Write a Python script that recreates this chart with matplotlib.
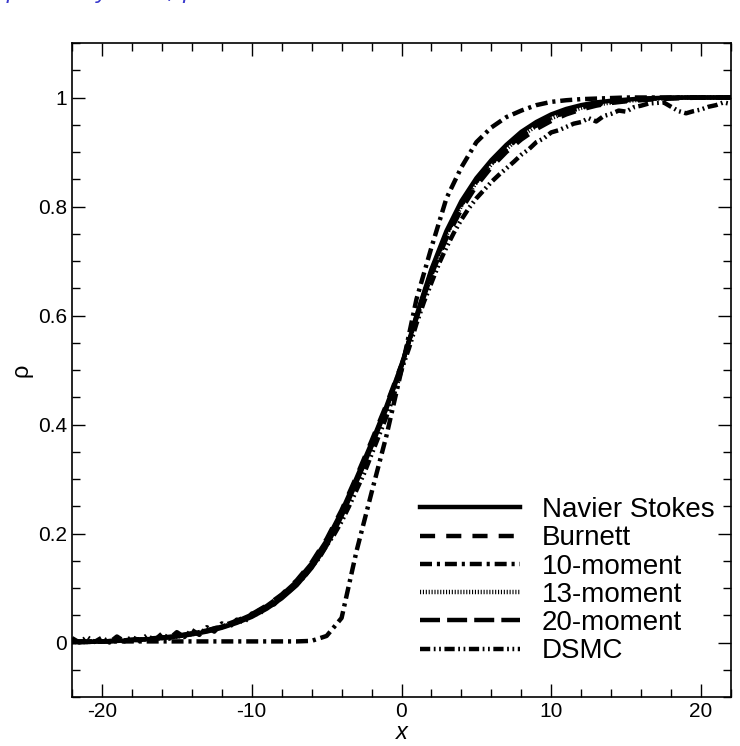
import numpy as np
import matplotlib
matplotlib.use('Agg')
import matplotlib.pyplot as plt
from matplotlib.ticker import MultipleLocator

plt.rcParams['font.family'] = ['Liberation Sans', 'DejaVu Sans']
plt.rcParams['axes.unicode_minus'] = False

# x positions for the smooth model curves (step 1)
x = np.arange(-22, 23, 1)
navier_stokes = [0.001, 0.001, 0.002, 0.003, 0.004, 0.006, 0.008, 0.011, 0.015, 0.02,
                 0.027, 0.036, 0.047, 0.062, 0.081, 0.105, 0.137, 0.178, 0.232, 0.295,
                 0.36, 0.43, 0.507, 0.6, 0.685, 0.755, 0.81, 0.852, 0.885, 0.913,
                 0.937, 0.955, 0.969, 0.979, 0.986, 0.991, 0.994, 0.996, 0.998, 0.999,
                 1.0, 1.0, 1.0, 1.0, 1.0]
burnett = [0.001, 0.002, 0.002, 0.003, 0.005, 0.007, 0.009, 0.012, 0.017, 0.022,
           0.03, 0.04, 0.052, 0.068, 0.088, 0.114, 0.147, 0.19, 0.243, 0.305,
           0.37, 0.437, 0.51, 0.595, 0.675, 0.742, 0.795, 0.838, 0.872, 0.9,
           0.923, 0.942, 0.957, 0.969, 0.978, 0.985, 0.99, 0.993, 0.995, 0.997,
           0.998, 0.999, 1.0, 1.0, 1.0]
moment10 = [0.002] * 16 + [0.003, 0.012, 0.045, 0.168, 0.275, 0.38, 0.5,
                           0.63, 0.725, 0.815, 0.872, 0.918, 0.945, 0.964,
                           0.976, 0.986, 0.992, 0.995, 0.997, 0.998, 0.999] + [1.0] * 8
moment13 = [0.001, 0.001, 0.002, 0.003, 0.004, 0.006, 0.008, 0.011, 0.015, 0.021,
            0.028, 0.037, 0.049, 0.064, 0.084, 0.109, 0.141, 0.182, 0.235, 0.297,
            0.362, 0.432, 0.508, 0.597, 0.68, 0.748, 0.802, 0.845, 0.878, 0.906,
            0.93, 0.948, 0.962, 0.973, 0.981, 0.987, 0.991, 0.994, 0.996, 0.998,
            0.999, 1.0, 1.0, 1.0, 1.0]
moment20 = [0.001, 0.001, 0.002, 0.003, 0.005, 0.006, 0.009, 0.012, 0.016, 0.022,
            0.029, 0.039, 0.051, 0.067, 0.087, 0.112, 0.145, 0.187, 0.24, 0.302,
            0.366, 0.434, 0.509, 0.598, 0.682, 0.75, 0.804, 0.846, 0.879, 0.907,
            0.93, 0.949, 0.963, 0.974, 0.982, 0.988, 0.992, 0.995, 0.997, 0.998,
            0.999, 1.0, 1.0, 1.0, 1.0]

# DSMC samples (step 0.5, noisy)
x_dsmc = np.arange(-22, 22.5, 0.5)
dsmc = [0.008, 0.0, 0.01, 0.001, 0.009, 0.0, 0.011, 0.002, 0.01, 0.003,
        0.013, 0.004, 0.016, 0.007, 0.019, 0.010, 0.023, 0.014, 0.028, 0.02,
        0.035, 0.028, 0.042, 0.037, 0.053, 0.052, 0.066, 0.07, 0.084, 0.094,
        0.107, 0.12, 0.139, 0.155, 0.178, 0.198, 0.222, 0.25, 0.28, 0.31,
        0.345, 0.38, 0.415, 0.455, 0.5, 0.54, 0.585, 0.625, 0.66, 0.695,
        0.725, 0.752, 0.776, 0.797, 0.815, 0.83, 0.845, 0.858, 0.87, 0.882,
        0.895, 0.905, 0.918, 0.925, 0.936, 0.94, 0.946, 0.952, 0.955, 0.962,
        0.956, 0.966, 0.97, 0.976, 0.974, 0.982, 0.985, 0.989, 0.99, 0.991,
        0.983, 0.975, 0.971, 0.975, 0.978, 0.983, 0.986, 0.991, 0.988]

labels = ['Navier Stokes', 'Burnett', '10-moment', '13-moment', '20-moment', 'DSMC']

fig = plt.figure(figsize=(7.4, 7.46), dpi=100)
ax = fig.add_axes([72 / 740, 1 - 697 / 746, 659 / 740, 654 / 746])

lw = 3.2
ax.plot(x, navier_stokes, color='black', lw=lw, label=labels[0])
ax.plot(x, burnett, color='black', lw=lw, dashes=(3.4, 2.5), label=labels[1])
ax.plot(x, moment10, color='black', lw=lw, dashes=(2.7, 1.1, 0.7, 1.1), label=labels[2])
ax.plot(x, moment13, color='black', lw=lw, dashes=(0.25, 0.4), label=labels[3])
ax.plot(x, moment20, color='black', lw=lw, dashes=(4.5, 1.6), label=labels[4])
ax.plot(x_dsmc, dsmc, color='black', lw=lw,
        dashes=(2.3, 0.8, 0.4, 0.8, 0.4, 0.8), label=labels[5])

ax.set_xlim(-22, 22)
ax.set_ylim(-0.1, 1.1)
ax.xaxis.set_major_locator(MultipleLocator(10))
ax.xaxis.set_minor_locator(MultipleLocator(2))
ax.yaxis.set_minor_locator(MultipleLocator(0.05))
ax.set_yticks([0, 0.2, 0.4, 0.6, 0.8, 1])
ax.set_yticklabels(['0', '0.2', '0.4', '0.6', '0.8', '1'])
ax.tick_params(which='both', direction='in', top=True, right=True, labelsize=15)
ax.tick_params(which='major', length=9.5, width=1)
ax.tick_params(which='minor', length=6, width=1)
for s in ax.spines.values():
    s.set_linewidth(1.2)

ax.set_xlabel('x', fontsize=17, style='italic', labelpad=0)
ax.set_ylabel('ρ', fontsize=17, labelpad=4)

ax.legend(loc='lower right', bbox_to_anchor=(0.975, 0.05), frameon=False,
          fontsize=20, handlelength=3.6, handletextpad=0.8, labelspacing=0.08,
          borderpad=0, borderaxespad=0)

# cut-off title line at the very top
fig.text(0.008, 1.002, 'ρ density vs. x, ρ', color='#3a3acd', fontsize=16,
         style='italic', va='baseline', family=['DejaVu Sans'])

fig.savefig('out.png', dpi=100)
